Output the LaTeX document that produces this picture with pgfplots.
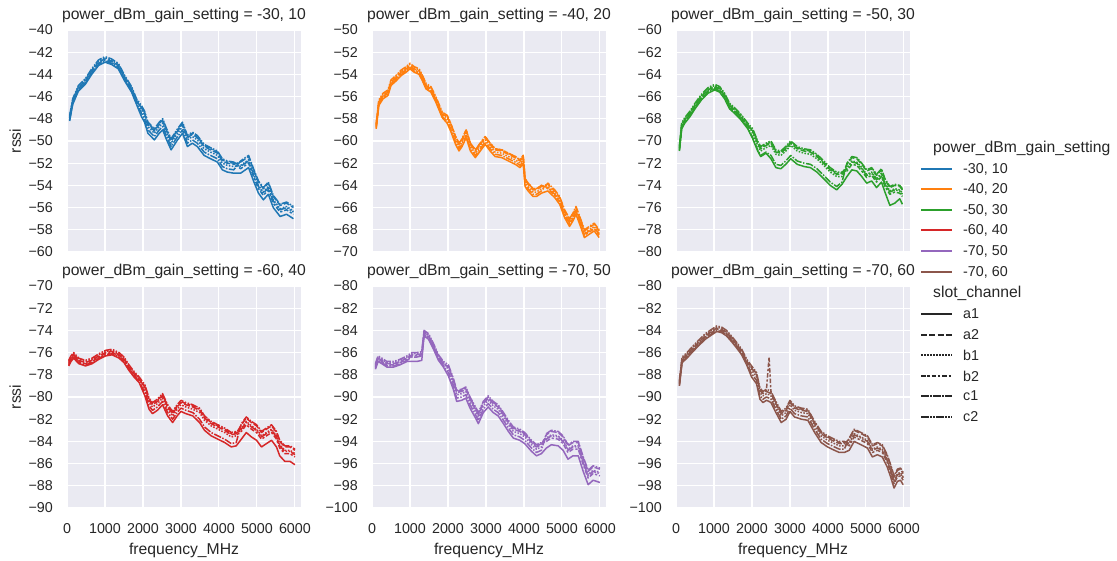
\documentclass[border=0pt]{standalone}
\usepackage{fontspec}
\setmainfont{Liberation Sans}
\usepackage{pgfplots}
\pgfplotsset{compat=1.18}
\usepackage{pgfplotstable}

\definecolor{bgc}{RGB}{234,234,242}
\definecolor{txt}{RGB}{38,38,38}
\definecolor{cblue}{RGB}{31,119,180}
\definecolor{corange}{RGB}{255,127,14}
\definecolor{cgreen}{RGB}{44,160,44}
\definecolor{cred}{RGB}{214,39,40}
\definecolor{cpurple}{RGB}{148,103,189}
\definecolor{cbrown}{RGB}{140,86,75}

\newcommand\tickfont{\fontsize{14.3}{16}\selectfont}
\newcommand\labfont{\fontsize{15.7}{18}\selectfont}

% rssi per slot_channel, one table per facet
\pgfplotstableread{
f a1 a2 b1 b2 c1 c2
70 -48.2 -47.9 -47.8 -48.0 -48.1 -47.7
150 -46.7 -46.4 -46.3 -46.5 -46.6 -46.2
300 -45.5 -45.2 -45.1 -45.3 -45.4 -45.0
480 -44.9 -44.6 -44.5 -44.7 -44.8 -44.4
650 -44.0 -43.7 -43.6 -43.8 -43.9 -43.5
830 -43.2 -42.9 -42.8 -43.0 -43.1 -42.7
1000 -42.9 -42.6 -42.5 -42.7 -42.8 -42.4
1170 -43.1 -42.8 -42.7 -42.9 -43.0 -42.6
1350 -43.5 -43.2 -43.1 -43.3 -43.4 -43.0
1520 -44.6 -44.3 -44.2 -44.4 -44.5 -44.1
1700 -45.6 -45.3 -45.2 -45.4 -45.5 -45.1
1830 -46.7 -46.4 -46.3 -46.5 -46.6 -46.2
1960 -47.8 -47.0 -47.2 -46.9 -47.5 -46.8
2040 -48.3 -47.5 -47.7 -47.4 -48.0 -47.3
2130 -49.3 -48.5 -48.7 -48.4 -49.0 -48.3
2300 -49.9 -49.1 -49.3 -49.0 -49.6 -48.9
2430 -49.3 -48.5 -48.7 -48.4 -49.0 -48.3
2520 -49.0 -48.2 -48.4 -48.1 -48.7 -48.0
2610 -49.8 -49.0 -49.2 -48.9 -49.5 -48.8
2740 -50.8 -50.0 -50.2 -49.9 -50.5 -49.8
2910 -49.9 -49.1 -49.3 -49.0 -49.6 -48.9
3040 -49.3 -48.5 -48.7 -48.4 -49.0 -48.3
3170 -50.5 -49.7 -49.9 -49.6 -50.2 -49.5
3300 -50.2 -49.4 -49.6 -49.3 -49.9 -49.2
3430 -50.5 -49.7 -49.9 -49.6 -50.2 -49.5
3610 -51.3 -50.5 -50.7 -50.4 -51.0 -50.3
3780 -51.6 -50.8 -51.0 -50.7 -51.3 -50.6
3960 -51.9 -51.1 -51.3 -51.0 -51.6 -50.9
4090 -52.6 -51.8 -52.0 -51.7 -52.3 -51.6
4220 -52.8 -52.0 -52.2 -51.9 -52.5 -51.8
4390 -52.9 -52.1 -52.3 -52.0 -52.6 -51.9
4570 -52.9 -51.9 -52.2 -52.5 -51.8 -52.3
4780 -52.4 -51.4 -51.7 -52.0 -51.3 -51.8
4910 -53.6 -52.6 -52.9 -53.2 -52.5 -53.0
5040 -54.7 -53.7 -54.0 -54.3 -53.6 -54.1
5170 -55.3 -54.3 -54.6 -54.9 -54.2 -54.7
5300 -54.8 -53.8 -54.1 -54.4 -53.7 -54.2
5430 -56.0 -55.0 -55.3 -55.6 -54.9 -55.4
5610 -56.8 -55.8 -56.1 -56.4 -55.7 -56.2
5780 -56.6 -55.6 -55.9 -56.2 -55.5 -56.0
5870 -56.8 -55.8 -56.1 -56.4 -55.7 -56.2
5960 -57.0 -56.0 -56.3 -56.6 -55.9 -56.4
}\tA

\pgfplotstableread{
f a1 a2 b1 b2 c1 c2
110 -58.9 -58.6 -58.5 -58.7 -58.8 -58.4
180 -56.8 -56.5 -56.4 -56.6 -56.7 -56.3
290 -56.2 -55.9 -55.8 -56.0 -56.1 -55.7
420 -55.9 -55.6 -55.5 -55.7 -55.8 -55.4
500 -55.0 -54.7 -54.6 -54.8 -54.9 -54.5
630 -54.6 -54.3 -54.2 -54.4 -54.5 -54.1
770 -54.1 -53.8 -53.7 -53.9 -54.0 -53.6
900 -53.8 -53.5 -53.4 -53.6 -53.7 -53.3
1000 -53.5 -53.2 -53.1 -53.3 -53.4 -53.0
1110 -53.8 -53.5 -53.4 -53.6 -53.7 -53.3
1240 -54.0 -53.7 -53.6 -53.8 -53.9 -53.5
1330 -54.6 -54.3 -54.2 -54.4 -54.5 -54.1
1420 -55.3 -55.0 -54.9 -55.1 -55.2 -54.8
1550 -55.6 -55.3 -55.2 -55.4 -55.5 -55.1
1680 -56.5 -56.2 -56.1 -56.3 -56.4 -56.0
1850 -57.9 -57.6 -57.5 -57.7 -57.8 -57.4
1980 -58.4 -57.8 -58.0 -57.7 -58.2 -57.7
2070 -59.1 -58.5 -58.7 -58.4 -58.9 -58.4
2200 -60.3 -59.7 -59.9 -59.6 -60.1 -59.6
2290 -60.9 -60.3 -60.5 -60.2 -60.7 -60.2
2370 -60.5 -59.9 -60.1 -59.8 -60.3 -59.8
2480 -59.7 -59.1 -59.3 -59.0 -59.5 -59.0
2590 -60.9 -60.3 -60.5 -60.2 -60.7 -60.2
2720 -61.5 -60.9 -61.1 -60.8 -61.3 -60.8
2850 -60.9 -60.3 -60.5 -60.2 -60.7 -60.2
2980 -60.3 -59.7 -59.9 -59.6 -60.1 -59.6
3110 -60.9 -60.3 -60.5 -60.2 -60.7 -60.2
3240 -61.4 -60.8 -61.0 -60.7 -61.2 -60.7
3420 -61.5 -60.9 -61.1 -60.8 -61.3 -60.8
3590 -61.8 -61.2 -61.4 -61.1 -61.6 -61.1
3770 -62.1 -61.5 -61.7 -61.4 -61.9 -61.4
3900 -62.4 -61.8 -62.0 -61.7 -62.2 -61.7
3980 -62.0 -61.4 -61.6 -61.3 -61.8 -61.3
4030 -64.1 -63.5 -63.7 -63.4 -63.9 -63.4
4110 -64.5 -63.9 -64.1 -63.8 -64.3 -63.8
4240 -65.0 -64.4 -64.6 -64.3 -64.8 -64.3
4330 -65.0 -64.4 -64.6 -64.3 -64.8 -64.3
4460 -64.7 -64.1 -64.3 -64.0 -64.5 -64.0
4630 -64.5 -63.9 -64.1 -64.3 -63.8 -64.2
4810 -65.1 -64.5 -64.7 -64.9 -64.4 -64.8
4940 -65.7 -65.1 -65.3 -65.5 -65.0 -65.4
5070 -66.9 -66.3 -66.5 -66.7 -66.2 -66.6
5200 -67.7 -67.1 -67.3 -67.5 -67.0 -67.4
5290 -67.2 -66.6 -66.8 -67.0 -66.5 -66.9
5370 -66.6 -66.0 -66.2 -66.4 -65.9 -66.3
5500 -67.8 -67.2 -67.4 -67.6 -67.1 -67.5
5590 -68.7 -68.1 -68.3 -68.5 -68.0 -68.4
5720 -68.4 -67.8 -68.0 -68.2 -67.7 -68.1
5850 -68.1 -67.5 -67.7 -67.9 -67.4 -67.8
5980 -68.7 -68.1 -68.3 -68.5 -68.0 -68.4
}\tB

\pgfplotstableread{
f a1 a2 b1 b2 c1 c2
90 -70.9 -70.6 -70.5 -70.7 -70.8 -70.4
150 -68.9 -68.6 -68.5 -68.7 -68.8 -68.4
230 -68.4 -68.1 -68.0 -68.2 -68.3 -67.9
370 -67.8 -67.5 -67.4 -67.6 -67.7 -67.3
500 -67.1 -66.8 -66.7 -66.9 -67.0 -66.6
670 -66.3 -66.0 -65.9 -66.1 -66.2 -65.8
840 -65.7 -65.4 -65.3 -65.5 -65.6 -65.2
1020 -65.4 -65.1 -65.0 -65.2 -65.3 -64.9
1150 -65.6 -65.3 -65.2 -65.4 -65.5 -65.1
1280 -66.2 -65.9 -65.8 -66.0 -66.1 -65.7
1410 -67.1 -66.8 -66.7 -66.9 -67.0 -66.6
1540 -67.5 -67.2 -67.1 -67.3 -67.4 -67.0
1710 -68.1 -67.8 -67.7 -67.9 -68.0 -67.6
1890 -68.9 -68.6 -68.5 -68.7 -68.8 -68.4
2020 -69.8 -69.1 -69.3 -69.0 -69.7 -68.9
2150 -70.9 -70.2 -70.4 -70.1 -70.8 -70.0
2230 -71.4 -70.7 -70.9 -70.6 -71.3 -70.5
2370 -71.1 -70.4 -70.6 -70.3 -71.0 -70.2
2500 -71.6 -70.2 -70.4 -70.1 -71.3 -70.0
2630 -72.4 -71.0 -71.2 -70.9 -72.1 -70.8
2760 -72.5 -71.1 -71.3 -71.0 -72.2 -70.9
2890 -72.1 -70.7 -70.9 -70.6 -71.8 -70.5
3020 -71.6 -70.2 -70.4 -70.1 -71.3 -70.0
3190 -72.1 -70.7 -70.9 -70.6 -71.8 -70.5
3370 -72.3 -70.9 -71.1 -70.8 -72.0 -70.7
3540 -72.4 -71.0 -71.2 -70.9 -72.1 -70.8
3710 -72.8 -71.4 -71.6 -71.3 -72.5 -71.2
3890 -73.4 -72.0 -72.2 -71.9 -73.1 -71.8
4060 -74.0 -72.6 -72.8 -72.5 -73.7 -72.4
4230 -74.4 -73.0 -73.2 -72.9 -74.1 -72.8
4370 -73.9 -73.0 -73.2 -72.9 -73.7 -72.8
4500 -73.2 -72.1 -72.4 -72.7 -72.0 -72.5
4630 -72.6 -71.5 -71.8 -72.1 -71.4 -71.9
4760 -72.7 -71.6 -71.9 -72.2 -71.5 -72.0
4890 -73.2 -72.1 -72.4 -72.7 -72.0 -72.5
5020 -73.8 -72.7 -73.0 -73.3 -72.6 -73.1
5150 -73.6 -72.5 -72.8 -73.1 -72.4 -72.9
5280 -74.2 -73.1 -73.4 -73.7 -73.0 -73.5
5410 -73.7 -72.6 -72.9 -73.2 -72.5 -73.0
5500 -74.6 -73.5 -73.8 -74.1 -73.4 -73.9
5630 -75.8 -74.2 -74.5 -74.8 -74.1 -74.6
5760 -75.6 -74.0 -74.3 -74.6 -73.9 -74.4
5890 -75.2 -74.1 -74.4 -74.7 -74.0 -74.5
5960 -75.7 -74.4 -74.7 -75.0 -74.3 -74.8
}\tC

\pgfplotstableread{
f a1 a2 b1 b2 c1 c2
45 -77.2 -76.9 -76.8 -77.0 -77.1 -76.7
105 -76.8 -76.5 -76.4 -76.6 -76.7 -76.3
175 -76.5 -76.2 -76.1 -76.3 -76.4 -76.0
310 -77.0 -76.7 -76.6 -76.8 -76.9 -76.5
485 -77.2 -76.9 -76.8 -77.0 -77.1 -76.7
660 -77.0 -76.7 -76.6 -76.8 -76.9 -76.5
840 -76.6 -76.3 -76.2 -76.4 -76.5 -76.1
1015 -76.3 -76.0 -75.9 -76.1 -76.2 -75.8
1190 -76.2 -75.9 -75.8 -76.0 -76.1 -75.7
1370 -76.5 -76.2 -76.1 -76.3 -76.4 -76.0
1500 -76.9 -76.6 -76.5 -76.7 -76.8 -76.4
1630 -77.6 -77.3 -77.2 -77.4 -77.5 -77.1
1765 -78.2 -77.9 -77.8 -78.0 -78.1 -77.7
1900 -78.7 -78.4 -78.3 -78.5 -78.6 -78.2
2050 -79.9 -79.1 -79.3 -79.0 -79.6 -78.9
2160 -81.1 -80.3 -80.5 -80.2 -80.8 -80.1
2250 -81.5 -80.7 -80.9 -80.6 -81.2 -80.5
2380 -81.2 -80.4 -80.6 -80.3 -80.9 -80.2
2515 -80.7 -79.9 -80.1 -79.8 -80.4 -79.7
2650 -81.7 -80.9 -81.1 -80.8 -81.4 -80.7
2780 -82.3 -81.5 -81.7 -81.4 -82.0 -81.3
2900 -81.7 -80.9 -81.1 -80.8 -81.4 -80.7
3000 -81.3 -80.5 -80.7 -80.4 -81.0 -80.3
3130 -81.5 -80.7 -80.9 -80.6 -81.2 -80.5
3310 -81.7 -80.9 -81.1 -80.8 -81.4 -80.7
3490 -82.3 -81.2 -81.4 -81.1 -82.0 -81.0
3620 -83.0 -81.9 -82.1 -81.8 -82.7 -81.7
3795 -83.5 -82.4 -82.6 -82.3 -83.2 -82.2
3970 -83.8 -82.7 -82.9 -82.6 -83.5 -82.5
4150 -84.1 -83.0 -83.2 -82.9 -83.8 -82.8
4325 -84.5 -83.4 -83.6 -83.3 -84.2 -83.2
4455 -84.4 -83.3 -83.5 -83.2 -84.1 -83.1
4590 -83.8 -82.5 -82.8 -83.1 -82.4 -82.9
4720 -83.2 -81.9 -82.2 -82.5 -81.8 -82.3
4855 -83.6 -82.3 -82.6 -82.9 -82.2 -82.7
4990 -83.9 -82.6 -82.9 -83.2 -82.5 -83.0
5120 -84.5 -83.2 -83.5 -83.8 -83.1 -83.6
5250 -84.2 -82.9 -83.2 -83.5 -82.8 -83.3
5385 -83.9 -82.6 -82.9 -83.2 -82.5 -83.0
5515 -84.5 -83.2 -83.5 -83.8 -83.1 -83.6
5600 -85.3 -84.0 -84.3 -84.6 -83.9 -84.4
5735 -85.8 -84.5 -84.8 -85.1 -84.4 -84.9
5870 -85.8 -84.5 -84.8 -85.1 -84.4 -84.9
6000 -86.1 -84.8 -85.1 -85.4 -84.7 -85.2
}\tD

\pgfplotstableread{
f a1 a2 b1 b2 c1 c2
90 -87.5 -87.2 -87.1 -87.3 -87.4 -87.0
160 -86.8 -86.5 -86.4 -86.6 -86.7 -86.3
260 -87.0 -86.7 -86.6 -86.8 -86.9 -86.5
390 -87.3 -87.0 -86.9 -87.1 -87.2 -86.8
570 -87.3 -87.0 -86.9 -87.1 -87.2 -86.8
740 -87.1 -86.8 -86.7 -86.9 -87.0 -86.6
920 -86.8 -86.5 -86.4 -86.6 -86.7 -86.3
1050 -86.8 -86.2 -86.1 -86.3 -86.4 -86.0
1180 -86.8 -86.2 -86.1 -86.3 -86.4 -86.0
1310 -86.7 -86.1 -86.0 -86.2 -86.3 -85.9
1370 -84.5 -84.2 -84.1 -84.3 -84.4 -84.0
1490 -84.8 -84.5 -84.4 -84.6 -84.7 -84.3
1620 -85.7 -85.4 -85.3 -85.5 -85.6 -85.2
1750 -86.7 -86.4 -86.3 -86.5 -86.6 -86.2
1880 -87.3 -87.0 -86.9 -87.1 -87.2 -86.8
2010 -88.1 -87.3 -87.5 -87.2 -87.8 -87.1
2140 -89.3 -88.5 -88.7 -88.4 -89.0 -88.3
2230 -90.4 -89.6 -89.8 -89.5 -90.1 -89.4
2360 -90.3 -89.5 -89.7 -89.4 -90.0 -89.3
2470 -90.1 -89.3 -89.5 -89.2 -89.8 -89.1
2580 -91.0 -90.2 -90.4 -90.1 -90.7 -90.0
2710 -91.8 -91.0 -91.2 -90.9 -91.5 -90.8
2800 -92.4 -91.6 -91.8 -91.5 -92.1 -91.4
2930 -91.4 -90.6 -90.8 -90.5 -91.1 -90.4
3060 -90.9 -90.1 -90.3 -90.0 -90.6 -89.9
3190 -91.4 -90.6 -90.8 -90.5 -91.1 -90.4
3320 -91.7 -90.9 -91.1 -90.8 -91.4 -90.7
3460 -92.4 -91.6 -91.8 -91.5 -92.1 -91.4
3590 -93.1 -92.3 -92.5 -92.2 -92.8 -92.1
3720 -93.7 -92.9 -93.1 -92.8 -93.4 -92.7
3890 -93.9 -93.1 -93.3 -93.0 -93.6 -92.9
4020 -94.2 -93.4 -93.6 -93.3 -93.9 -93.2
4200 -94.9 -94.1 -94.3 -94.0 -94.6 -93.9
4330 -95.3 -94.5 -94.7 -94.4 -95.0 -94.3
4460 -95.1 -94.3 -94.5 -94.2 -94.8 -94.1
4590 -94.6 -93.4 -93.7 -94.0 -93.3 -93.8
4720 -94.3 -93.1 -93.4 -93.7 -93.0 -93.5
4900 -94.4 -93.2 -93.5 -93.8 -93.1 -93.6
5030 -94.8 -93.6 -93.9 -94.2 -93.5 -94.0
5160 -95.6 -94.4 -94.7 -95.0 -94.3 -94.8
5290 -95.3 -94.1 -94.4 -94.7 -94.0 -94.5
5430 -95.3 -94.1 -94.4 -94.7 -94.0 -94.5
5560 -96.7 -95.5 -95.8 -96.1 -95.4 -95.9
5690 -97.9 -96.7 -97.0 -97.3 -96.6 -97.1
5820 -97.5 -96.3 -96.6 -96.9 -96.2 -96.7
6000 -97.7 -96.5 -96.8 -97.1 -96.4 -96.9
}\tE

\pgfplotstableread{
f a1 a2 b1 b2 c1 c2
90 -89.0 -88.7 -88.6 -88.8 -88.9 -88.5
160 -86.9 -86.6 -86.5 -86.7 -86.8 -86.4
290 -86.5 -86.2 -86.1 -86.3 -86.4 -86.0
420 -86.0 -85.7 -85.6 -85.8 -85.9 -85.5
590 -85.4 -85.1 -85.0 -85.2 -85.3 -84.9
770 -84.8 -84.5 -84.4 -84.6 -84.7 -84.3
940 -84.4 -84.1 -84.0 -84.2 -84.3 -83.9
1070 -84.1 -83.8 -83.7 -83.9 -84.0 -83.6
1200 -84.2 -83.9 -83.8 -84.0 -84.1 -83.7
1330 -84.5 -84.2 -84.1 -84.3 -84.4 -84.0
1460 -85.0 -84.7 -84.6 -84.8 -84.9 -84.5
1600 -85.6 -85.3 -85.2 -85.4 -85.5 -85.1
1730 -86.2 -85.9 -85.8 -86.0 -86.1 -85.7
1860 -87.1 -86.8 -86.7 -86.9 -87.0 -86.6
1990 -88.2 -87.4 -87.6 -87.3 -87.9 -87.2
2120 -88.8 -88.0 -88.2 -87.9 -88.5 -87.8
2210 -90.2 -89.4 -89.6 -89.3 -89.9 -89.2
2290 -90.5 -89.7 -89.9 -89.6 -90.2 -89.5
2380 -90.3 -89.5 -89.7 -89.4 -90.0 -89.3
2450 -90.4 -89.6 -89.8 -86.4 -90.1 -89.4
2500 -90.5 -89.7 -89.9 -89.6 -90.2 -89.5
2630 -91.4 -90.6 -90.8 -90.5 -91.1 -90.4
2770 -92.3 -91.5 -91.7 -91.4 -92.0 -91.3
2900 -92.0 -91.2 -91.4 -91.1 -91.7 -91.0
3000 -91.3 -90.5 -90.7 -90.4 -91.0 -90.3
3120 -91.8 -91.0 -91.2 -90.9 -91.5 -90.8
3300 -92.0 -91.2 -91.4 -91.1 -91.7 -91.0
3470 -92.1 -91.3 -91.5 -91.2 -91.8 -91.1
3650 -93.2 -92.4 -92.6 -92.3 -92.9 -92.2
3820 -94.1 -93.3 -93.5 -93.2 -93.8 -93.1
3990 -94.5 -93.7 -93.9 -93.6 -94.2 -93.5
4170 -94.8 -94.0 -94.2 -93.9 -94.5 -93.8
4300 -95.0 -94.2 -94.4 -94.1 -94.7 -94.0
4430 -95.0 -94.2 -94.4 -94.1 -94.7 -94.0
4560 -94.8 -93.8 -94.1 -94.4 -93.7 -94.2
4690 -94.0 -93.0 -93.3 -93.6 -92.9 -93.4
4870 -94.3 -93.3 -93.6 -93.9 -93.2 -93.7
5040 -94.6 -93.6 -93.9 -94.2 -93.5 -94.0
5170 -95.4 -94.4 -94.7 -95.0 -94.3 -94.8
5300 -95.2 -94.2 -94.5 -94.8 -94.1 -94.6
5430 -95.4 -94.4 -94.7 -95.0 -94.3 -94.8
5560 -96.3 -95.3 -95.6 -95.9 -95.2 -95.7
5650 -97.2 -96.2 -96.5 -96.8 -96.1 -96.6
5740 -98.2 -97.2 -97.5 -97.8 -97.1 -97.6
5830 -97.6 -96.6 -96.9 -97.2 -96.5 -97.0
5910 -97.5 -96.5 -96.8 -97.1 -96.4 -96.9
5980 -97.9 -96.9 -97.2 -97.5 -96.8 -97.3
}\tF

\tikzset{
  la1/.style={solid},
  la2/.style={dash pattern=on 6pt off 2.25pt},
  lb1/.style={dash pattern=on 1.5pt off 1.5pt},
  lb2/.style={dash pattern=on 4.5pt off 1.9pt on 2.25pt off 1.9pt},
  lc1/.style={dash pattern=on 7.5pt off 1.5pt on 1.5pt off 1.5pt},
  lc2/.style={dash pattern=on 7.5pt off 1.5pt on 1.5pt off 1.5pt on 1.5pt off 1.5pt},
}

\pgfplotsset{
  facet/.style={
    width=234pt, height=222pt, scale only axis,
    xmin=0, xmax=6160,
    xtick={0,1000,...,6000},
    ytick distance=2,
    grid=major,
    grid style={white, line width=1.1pt},
    axis background/.style={fill=bgc},
    axis line style={draw=none},
    major tick length=0pt,
    tick label style={font=\tickfont, text=txt, inner sep=0pt},
    yticklabel style={anchor=east, xshift=-14pt},
    xticklabel style={anchor=north, yshift=-15pt},
    yticklabel={\pgfmathtruncatemacro\tv{abs(\tick)}−\tv},
    xticklabel={\pgfmathtruncatemacro\tv{\tick}\tv},
    title style={font=\labfont, text=txt, at={(0.5,1)}, anchor=south, inner sep=0pt, yshift=1pt},
    label style={font=\labfont, text=txt},
    xlabel style={yshift=-6pt},
    ylabel style={yshift=4pt},
    every axis plot/.append style={line width=1.5pt, line join=round},
  },
  toprow/.style={xticklabel={\mbox{}}},
}

\newcommand\sixlines[2]{%
  \addplot[#2, la1] table[x=f, y=a1] {#1};
  \addplot[#2, la2] table[x=f, y=a2] {#1};
  \addplot[#2, lb1] table[x=f, y=b1] {#1};
  \addplot[#2, lb2] table[x=f, y=b2] {#1};
  \addplot[#2, lc1] table[x=f, y=c1] {#1};
  \addplot[#2, lc2] table[x=f, y=c2] {#1};
}

\begin{document}
\begin{tikzpicture}
\useasboundingbox (0pt,0pt) rectangle (1117pt,561pt);

\begin{axis}[facet, toprow, at={(67pt,309pt)}, anchor=south west,
  ymin=-60, ymax=-40, ylabel={rssi},
  title={power\_dBm\_gain\_setting = -30, 10}]
  \sixlines{\tA}{cblue}
\end{axis}

\begin{axis}[facet, toprow, at={(372pt,309pt)}, anchor=south west,
  ymin=-70, ymax=-50,
  title={power\_dBm\_gain\_setting = -40, 20}]
  \sixlines{\tB}{corange}
\end{axis}

\begin{axis}[facet, toprow, at={(676pt,309pt)}, anchor=south west,
  ymin=-80, ymax=-60,
  title={power\_dBm\_gain\_setting = -50, 30}]
  \sixlines{\tC}{cgreen}
\end{axis}

\begin{axis}[facet, at={(67pt,53pt)}, anchor=south west,
  ymin=-90, ymax=-70, ylabel={rssi}, xlabel={frequency\_MHz},
  title={power\_dBm\_gain\_setting = -60, 40}]
  \sixlines{\tD}{cred}
\end{axis}

\begin{axis}[facet, at={(372pt,53pt)}, anchor=south west,
  ymin=-100, ymax=-80, xlabel={frequency\_MHz},
  title={power\_dBm\_gain\_setting = -70, 50}]
  \sixlines{\tE}{cpurple}
\end{axis}

\begin{axis}[facet, at={(676pt,53pt)}, anchor=south west,
  ymin=-100, ymax=-80, xlabel={frequency\_MHz},
  title={power\_dBm\_gain\_setting = -70, 60}]
  \sixlines{\tF}{cbrown}
\end{axis}

% legend
\begin{scope}[every node/.style={anchor=west, inner sep=0pt, text=txt}]
  \node[font=\labfont] at (933pt,413pt) {power\_dBm\_gain\_setting};
  \foreach \y/\c/\t in {392/cblue/{-30, 10}, 372/corange/{-40, 20}, 351/cgreen/{-50, 30},
                        331/cred/{-60, 40}, 310/cpurple/{-70, 50}, 289/cbrown/{-70, 60}} {
    \draw[\c, line width=1.7pt] (921pt,\y pt) -- (952pt,\y pt);
    \node[font=\tickfont] at (963pt,\y pt) {\t};
  }
  \node[font=\labfont] at (933pt,268pt) {slot\_channel};
  \foreach \y/\s/\t in {247/la1/a1, 226/la2/a2, 206/lb1/b1, 185/lb2/b2, 165/lc1/c1, 144/lc2/c2} {
    \draw[txt, line width=1.7pt, \s] (921pt,\y pt) -- (952pt,\y pt);
    \node[font=\tickfont] at (963pt,\y pt) {\t};
  }
\end{scope}
\end{tikzpicture}
\end{document}
